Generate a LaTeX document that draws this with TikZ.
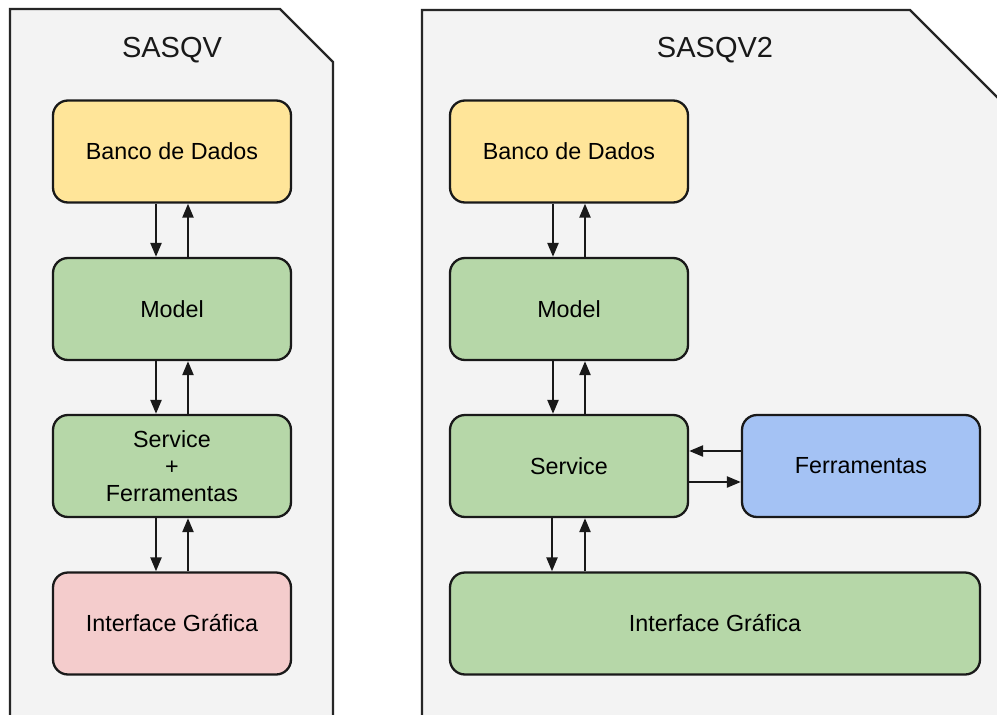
\documentclass[tikz,border=0pt]{standalone}
\usepackage{fontspec}
\setmainfont{Liberation Sans}
\usetikzlibrary{arrows.meta}
\definecolor{panelgray}{HTML}{F3F3F3}
\definecolor{dbyellow}{HTML}{FFE599}
\definecolor{layergreen}{HTML}{B6D7A8}
\definecolor{uipink}{HTML}{F4CCCC}
\definecolor{toolblue}{HTML}{A4C2F4}
\tikzset{
  panel/.style={draw=black!85, line width=2.3pt, fill=panelgray},
  layer/.style={draw=black!90, line width=2.3pt, rounded corners=15pt,
    minimum width=238pt, minimum height=102pt, align=center,
    font=\fontsize{23.3}{27}\selectfont, inner sep=0pt},
  title/.style={font=\fontsize{29}{34}\selectfont, text=black!90},
  flow/.style={line width=2.3pt, draw=black!90,
    -{Triangle[length=14pt,width=11pt]}}
}
\begin{document}
\begin{tikzpicture}[x=1pt,y=-1pt]
\useasboundingbox (0,0) rectangle (997,715);
\clip (0,0) rectangle (997,715);
\fill[white] (0,0) rectangle (997,715);
% panels with a cut top-right corner, open at the bottom
\draw[panel] (10,730) -- (10,9) -- (280,9) -- (333,62) -- (333,730);
\draw[panel] (422,730) -- (422,10) -- (910,10) -- (1020,120) -- (1020,730);
\node[title] at (172,50) {SASQV};
\node[title] at (715,50) {SASQV2};
% first system
\node[layer, fill=dbyellow]   (db1)  at (172,151.5) {Banco de Dados};
\node[layer, fill=layergreen] (mod1) at (172,309)   {Model};
\node[layer, fill=layergreen] (svc1) at (172,466)   {Service\\+\\Ferramentas};
\node[layer, fill=uipink]     (ui1)  at (172,623.5) {Interface Gráfica};
% second system
\node[layer, fill=dbyellow]   (db2)  at (569,151.5) {Banco de Dados};
\node[layer, fill=layergreen] (mod2) at (569,309)   {Model};
\node[layer, fill=layergreen] (svc2) at (569,466)   {Service};
\node[layer, fill=toolblue]   (tool2) at (861,466)  {Ferramentas};
\node[layer, fill=layergreen, minimum width=530pt] (ui2) at (715,623.5) {Interface Gráfica};
% vertical links, down on the left, up on the right
\foreach \a/\b in {db1/mod1, mod1/svc1, svc1/ui1, db2/mod2, mod2/svc2} {
  \draw[flow] ([xshift=-16pt]\a.south) -- ([xshift=-16pt]\b.north);
  \draw[flow] ([xshift=16pt]\b.north) -- ([xshift=16pt]\a.south);
}
\draw[flow] ([xshift=-17pt]svc2.south) -- ([xshift=-17pt]svc2.south |- ui2.north);
\draw[flow] ([xshift=16pt]svc2.south |- ui2.north) -- ([xshift=16pt]svc2.south);
% tools link: upper arrow towards Service, lower towards Ferramentas
\draw[flow] ([yshift=15pt]tool2.west) -- ([yshift=15pt]svc2.east);
\draw[flow] ([yshift=-16pt]svc2.east) -- ([yshift=-16pt]tool2.west);
\end{tikzpicture}
\end{document}
